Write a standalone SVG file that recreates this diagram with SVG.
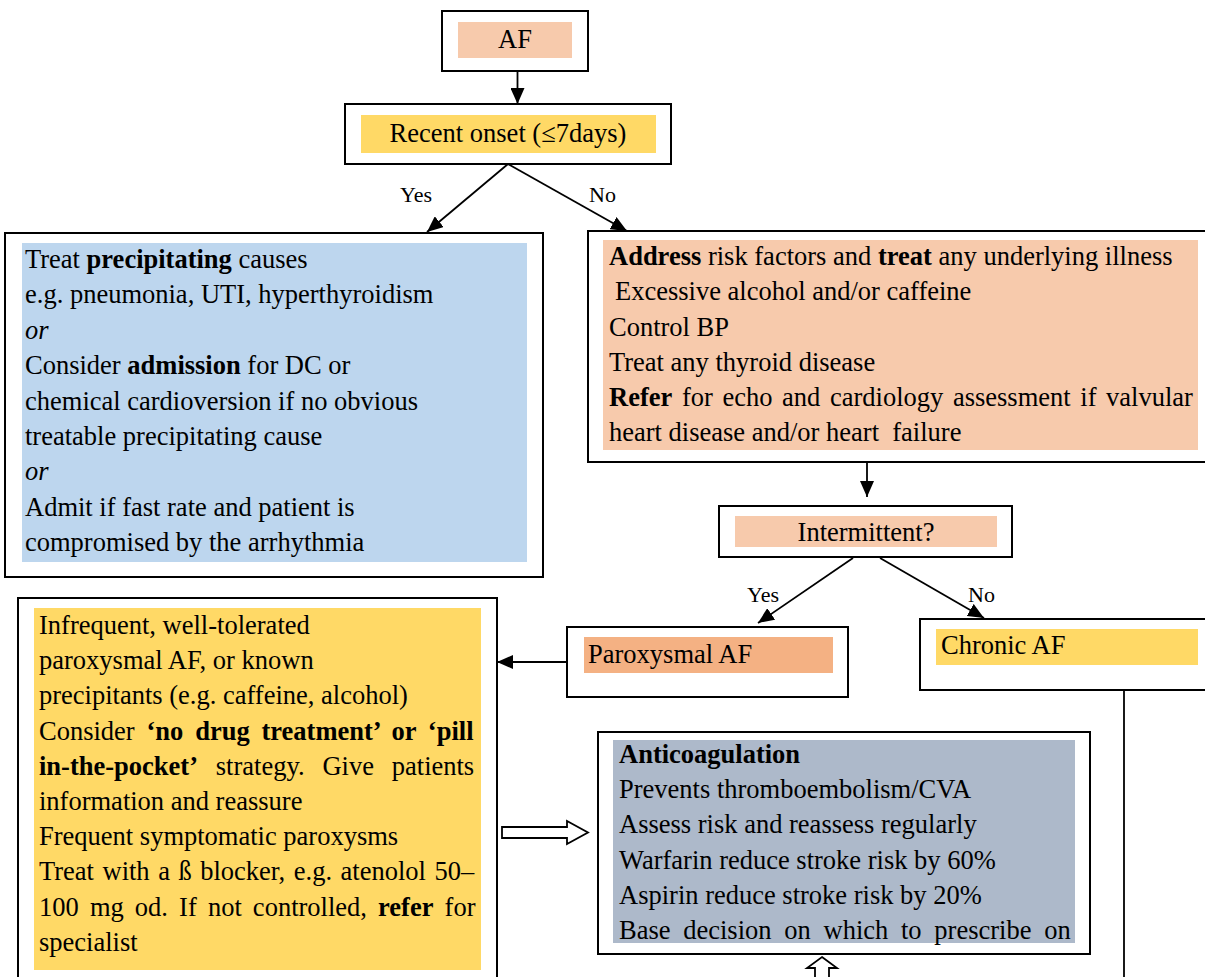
<svg xmlns="http://www.w3.org/2000/svg" width="1205" height="977" viewBox="0 0 1205 977">
<defs>
<style>
.box{fill:#fff;stroke:#000;stroke-width:2}
.t{font-family:"Liberation Serif","Times New Roman",serif;font-size:26.5px;fill:#000}
.lbl{font-family:"Liberation Serif","Times New Roman",serif;font-size:22px;fill:#000}
.b{font-weight:bold}
.i{font-style:italic}
.peach{fill:#F7CAAC}
.yellow{fill:#FFD966}
.blue{fill:#BDD6EE}
.salmon{fill:#F4B183}
.slate{fill:#ADB9CA}
.ln{stroke:#000;stroke-width:1.8;fill:none}
.hollow{fill:#fff;stroke:#000;stroke-width:1.8;stroke-linejoin:miter}
</style>
<marker id="ah" viewBox="0 0 16 14" refX="16" refY="7" markerWidth="16" markerHeight="14" markerUnits="userSpaceOnUse" orient="auto">
<path d="M0,0 L16,7 L0,14 Z" fill="#000"/>
</marker>
</defs>
<rect width="1205" height="977" fill="#fff"/>

<!-- start node -->
<g id="af">
<rect class="box" x="442" y="11" width="146" height="60"/>
<rect class="peach" x="458" y="22" width="114" height="36"/>
<text class="t" x="515" y="48" text-anchor="middle">AF</text>
</g>

<g id="recent-onset">
<rect class="box" x="345" y="104" width="326" height="60"/>
<rect class="yellow" x="361" y="115" width="295" height="38"/>
<text class="t" x="508" y="142" text-anchor="middle">Recent onset (≤7days)</text>
</g>

<g id="treat-causes">
<rect class="box" x="5" y="233" width="538" height="344"/>
<rect class="blue" x="22" y="243" width="505" height="319"/>
<text class="t" x="25" y="268">Treat <tspan class="b">precipitating</tspan> causes</text>
<text class="t" x="25" y="303.4">e.g. pneumonia, UTI, hyperthyroidism</text>
<text class="t i" x="25" y="338.8">or</text>
<text class="t" x="25" y="374.2">Consider <tspan class="b">admission</tspan> for DC or</text>
<text class="t" x="25" y="409.6">chemical cardioversion if no obvious</text>
<text class="t" x="25" y="445">treatable precipitating cause</text>
<text class="t i" x="25" y="480.4">or</text>
<text class="t" x="25" y="515.8">Admit if fast rate and patient is</text>
<text class="t" x="25" y="551.2">compromised by the arrhythmia</text>
</g>

<g id="risk-factors">
<rect class="box" x="588" y="231" width="630" height="231"/>
<rect class="peach" x="603" y="240" width="595" height="210"/>
<text class="t" x="609" y="265"><tspan class="b">Address</tspan> risk factors and <tspan class="b">treat</tspan> any underlying illness</text>
<text class="t" x="615" y="300">Excessive alcohol and/or caffeine</text>
<text class="t" x="609" y="335.5">Control BP</text>
<text class="t" x="609" y="370.5">Treat any thyroid disease</text>
<text class="t" x="609" y="406" word-spacing="3"><tspan class="b">Refer</tspan> for echo and cardiology assessment if valvular</text>
<text class="t" x="609" y="441" xml:space="preserve">heart disease and/or heart  failure</text>
</g>

<g id="intermittent">
<rect class="box" x="719" y="506" width="293" height="51"/>
<rect class="peach" x="735" y="516" width="262" height="31"/>
<text class="t" x="866" y="541" text-anchor="middle">Intermittent?</text>
</g>

<g id="paroxysmal">
<rect class="box" x="567" y="627" width="281" height="70"/>
<rect class="salmon" x="584" y="637" width="249" height="36"/>
<text class="t" x="588" y="663">Paroxysmal AF</text>
</g>

<g id="chronic">
<rect class="box" x="920" y="619" width="300" height="71"/>
<rect class="yellow" x="936" y="629" width="262" height="36"/>
<text class="t" x="941" y="654">Chronic AF</text>
</g>

<g id="paroxysmal-management">
<rect class="box" x="18" y="598" width="479" height="400"/>
<rect class="yellow" x="34" y="608" width="447" height="362"/>
<text class="t" x="39" y="634">Infrequent, well-tolerated</text>
<text class="t" x="39" y="669.2">paroxysmal AF, or known</text>
<text class="t" x="39" y="704.4">precipitants (e.g. caffeine, alcohol)</text>
<text class="t" x="39" y="739.6" word-spacing="5.2">Consider <tspan class="b">‘no drug treatment’ or ‘pill</tspan></text>
<text class="t" x="39" y="774.8" word-spacing="11.2"><tspan class="b">in-the-pocket’</tspan> strategy. Give patients</text>
<text class="t" x="39" y="810">information and reassure</text>
<text class="t" x="39" y="845.2">Frequent symptomatic paroxysms</text>
<text class="t" x="39" y="880.4" word-spacing="1.9">Treat with a ß blocker, e.g. atenolol 50–</text>
<text class="t" x="39" y="915.6" word-spacing="4.5">100 mg od. If not controlled, <tspan class="b">refer</tspan> for</text>
<text class="t" x="39" y="950.8">specialist</text>
</g>

<g id="anticoagulation">
<rect class="box" x="598" y="732" width="492" height="222"/>
<rect class="slate" x="613" y="740" width="462" height="203"/>
<text class="t b" x="619" y="763">Anticoagulation</text>
<text class="t" x="619" y="798">Prevents thromboembolism/CVA</text>
<text class="t" x="619" y="833.3">Assess risk and reassess regularly</text>
<text class="t" x="619" y="868.6">Warfarin reduce stroke risk by 60%</text>
<text class="t" x="619" y="903.9">Aspirin reduce stroke risk by 20%</text>
<text class="t" x="619" y="939.2" word-spacing="6.1">Base decision on which to prescribe on</text>
</g>

<!-- connectors -->
<g id="connectors">
<line class="ln" x1="517.5" y1="71" x2="517.5" y2="104" marker-end="url(#ah)"/>
<line class="ln" x1="508" y1="164" x2="427" y2="232" marker-end="url(#ah)"/>
<line class="ln" x1="508" y1="164" x2="627" y2="231" marker-end="url(#ah)"/>
<text class="lbl" x="400" y="202">Yes</text>
<text class="lbl" x="589" y="202">No</text>
<line class="ln" x1="867" y1="462" x2="867" y2="497" marker-end="url(#ah)"/>
<line class="ln" x1="853" y1="558" x2="758" y2="623" marker-end="url(#ah)"/>
<line class="ln" x1="880" y1="558" x2="984" y2="618" marker-end="url(#ah)"/>
<text class="lbl" x="747" y="602">Yes</text>
<text class="lbl" x="968" y="602">No</text>
<line class="ln" x1="567" y1="662" x2="497" y2="662" marker-end="url(#ah)"/>
<line class="ln" x1="1124" y1="690" x2="1124" y2="980"/>
<polygon class="hollow" points="502,827 567,827 567,821 588,832.5 567,844 567,838 502,838"/>
<polygon class="hollow" points="822,957 837,968 829,968 829,982 815,982 815,968 807,968"/>
</g>
</svg>
